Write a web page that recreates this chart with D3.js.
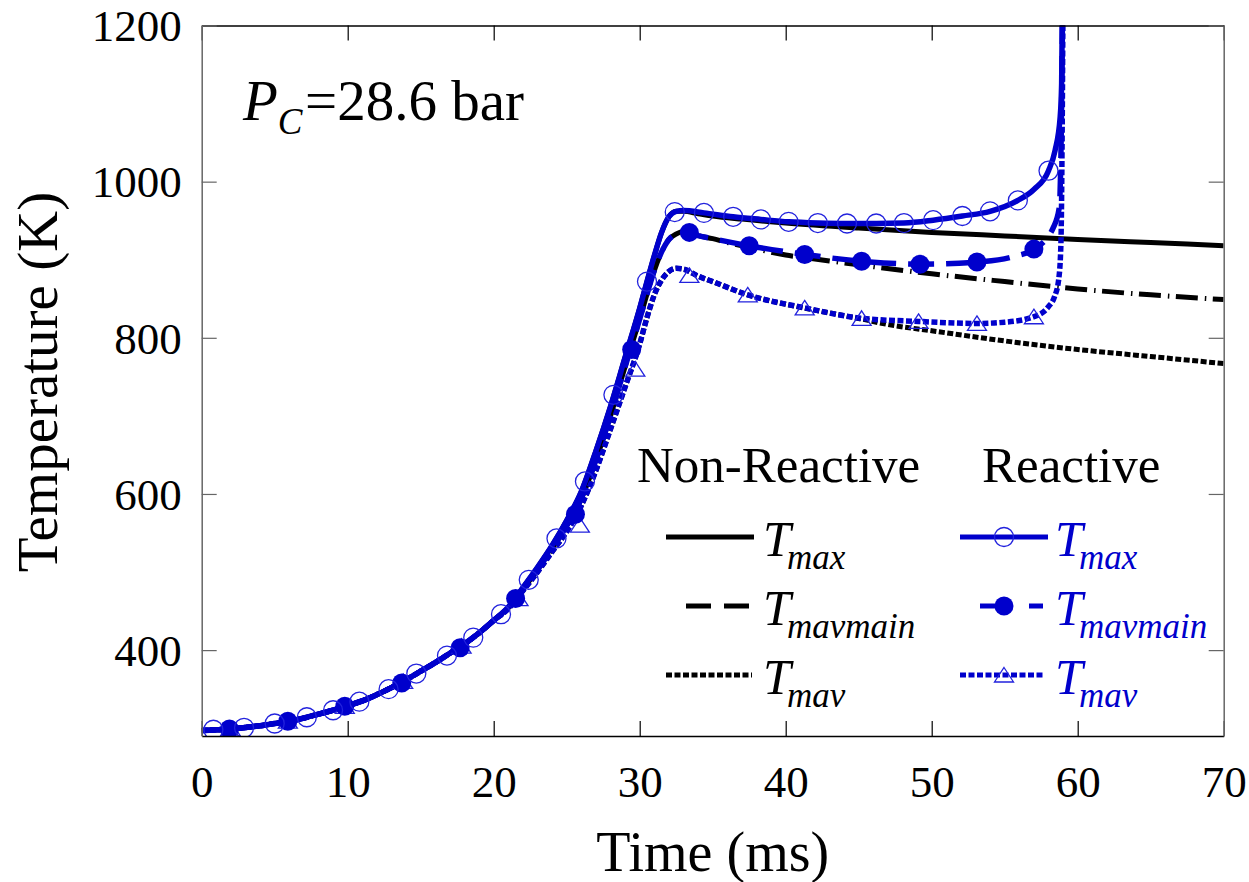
<!DOCTYPE html>
<html>
<head>
<meta charset="utf-8">
<script src="https://cdn.jsdelivr.net/npm/d3@7"></script>
<style>
  body { margin: 0; background: #fff; }
  svg { display: block; font-family: "Liberation Serif", "Times New Roman", serif; }
</style>
</head>
<body>
<svg id="chart" width="1249" height="882"></svg>
<script>
// axis ticks
const X_TICKS = [0, 10, 20, 30, 40, 50, 60, 70];
const Y_TICKS = [400, 600, 800, 1000, 1200];

// compression stroke (all series share the times)
const COMP_T = [0, 1, 2, 3, 4, 5, 6, 7, 8, 9, 10, 11, 12, 13, 14, 15, 16, 17, 18, 19, 20,
    21, 22, 23, 24, 25, 26, 27, 28, 29, 30, 30.5, 31, 31.5, 32, 32.5];
const COMP_TMAX = [297, 298, 299, 301, 303, 306, 309, 313, 318, 323, 329, 335, 343, 352, 362, 373, 384, 396, 408, 422, 438,
    455, 480, 506, 534, 566, 603, 655, 712, 775, 838, 872, 905, 935, 955, 962];
const COMP_TMAVMAIN = [297, 298, 299, 301, 303, 306, 309, 313, 318, 323, 329, 335, 343, 352, 362, 373, 384, 396, 408, 422, 438,
    454, 478, 503, 530, 559, 594, 643, 700, 763, 824, 856, 886, 910, 926, 933];
const COMP_TMAV = [297, 298, 299, 301, 303, 306, 309, 313, 318, 323, 329, 335, 343, 352, 362, 373, 384, 396, 408, 422, 438,
    453, 476, 500, 526, 552, 585, 630, 683, 737, 792, 826, 855, 874, 885, 889];

// after compression - non reactive
const NR_TMAX_T = [33, 34, 35, 37, 40, 45, 50, 55, 60, 65, 70];
const NR_TMAX_V = [962, 959, 956, 952, 947, 940.5, 935, 930.5, 926, 922, 918];
const NR_TMAVMAIN_T = [33, 33.4, 34, 35, 36, 37.5, 40, 42, 45, 50, 55, 60, 65, 70];
const NR_TMAVMAIN_V = [936, 935, 931, 927, 922, 916, 906, 901, 893.5, 882, 872, 862.5, 855, 849];
const NR_TMAV_T = [33, 34, 35, 37.4, 40, 41.3, 45.2, 47, 50, 55, 60, 65, 70];
const NR_TMAV_V = [888, 879, 872, 855, 843, 838, 824, 817, 809, 796, 785, 776, 767];

// after compression - reactive
const R_TMAX_T = [33, 34.4, 36.4, 38.3, 40.2, 42.2, 44.2, 46.2, 48.1, 50.1, 52.1, 54, 55.9, 57, 58, 58.45, 58.8, 58.9, 58.97];
const R_TMAX_V = [963, 960, 955, 951.6, 948.5, 947, 946.4, 946.4, 947, 950.7, 956, 962, 976, 990, 1014, 1040, 1083, 1126, 1260];
const R_TMAVMAIN_T = [33, 33.4, 34, 35, 37.5, 41.3, 45.2, 49.2, 53.1, 55.6, 57, 58.3, 58.74, 58.9, 58.98];
const R_TMAVMAIN_V = [936, 935, 931, 927, 917.8, 906.8, 898, 894.3, 897, 904, 913.6, 940, 967, 1100, 1260];
const R_TMAV_T = [33, 34, 35, 37.4, 41.3, 45.2, 49.1, 53.1, 55, 57, 58, 58.4, 58.7, 58.85, 58.95, 59];
const R_TMAV_V = [888, 879, 872, 855, 838.4, 825, 821, 818.4, 820, 827, 840, 852, 875, 920, 1100, 1260];

// markers on the reactive curves
const MK_TMAX_T = [0.8, 2.9, 5.0, 7.2, 9.0, 10.8, 12.8, 14.7, 16.8, 18.6, 20.5, 22.4, 24.3, 26.25, 28.2, 30.5,
    32.4, 34.4, 36.4, 38.3, 40.2, 42.2, 44.2, 46.2, 48.1, 50.1, 52.1, 54.0, 55.9, 58.0];
const MK_TMAX_V = [298, 300.5, 306, 314, 323, 334, 350, 370, 393, 416, 446, 490, 543, 616, 727, 872,
    961, 960, 955, 951.6, 948.5, 947, 946.4, 946.4, 947, 950.7, 956, 962, 976, 1014];
const MK_TMAVMAIN_T = [1.9, 5.9, 9.8, 13.7, 17.7, 21.5, 25.6, 29.45, 33.4, 37.5, 41.3, 45.2, 49.2, 53.1, 57.0];
const MK_TMAVMAIN_V = [299, 309, 328, 358, 403, 466, 574, 785, 935, 917.8, 906.8, 898, 894.3, 897, 913.6];
const MK_TMAV_T = [2.0, 5.9, 9.8, 13.8, 17.8, 21.7, 25.9, 29.7, 33.4, 37.4, 41.3, 45.2, 49.1, 53.1, 57.0];
const MK_TMAV_V = [299, 309, 328, 360, 405, 466, 560, 760, 880, 855, 838.4, 825, 821, 818.4, 827];

const BLUE = '#0000cc';
const FONT_TICK = 45;

const svg = d3.select('#chart');
svg.append('rect').attr('width', 1249).attr('height', 882).attr('fill', '#fff');

const X0 = 201.7, X1 = 1223.7, Y0 = 736, Y1 = 25.5;
const x = d3.scaleLinear().domain([0, 70]).range([X0, X1]);
const y = d3.scaleLinear().domain([290, 1200]).range([Y0, Y1]);

// helper to zip arrays into points
function pts(ts, vs) {
    return ts.map((t, i) => [t, vs[i]]);
}

const line = d3.line()
    .x(d => x(d[0]))
    .y(d => y(d[1]))
    .curve(d3.curveMonotoneX);

svg.append('clipPath').attr('id', 'plotclip')
    .append('rect')
    .attr('x', X0).attr('y', Y1)
    .attr('width', X1 - X0).attr('height', Y0 - Y1);

const plot = svg.append('g').attr('clip-path', 'url(#plotclip)');

// series definitions
const SERIES = [
    { data: pts(COMP_T, COMP_TMAX).concat(pts(NR_TMAX_T, NR_TMAX_V)), color: '#000', width: 5, dash: null },
    { data: pts(COMP_T, COMP_TMAVMAIN).concat(pts(NR_TMAVMAIN_T, NR_TMAVMAIN_V)), color: '#000', width: 5, dash: '22,7,1.5,6.5' },
    { data: pts(COMP_T, COMP_TMAV).concat(pts(NR_TMAV_T, NR_TMAV_V)), color: '#000', width: 5, dash: '6,2.5' },
    { data: pts(COMP_T, COMP_TMAV).concat(pts(R_TMAV_T, R_TMAV_V)), color: BLUE, width: 5.5, dash: '6,2.5' },
    { data: pts(COMP_T, COMP_TMAVMAIN).concat(pts(R_TMAVMAIN_T, R_TMAVMAIN_V)), color: BLUE, width: 5.5, dash: '26,12' },
    { data: pts(COMP_T, COMP_TMAX).concat(pts(R_TMAX_T, R_TMAX_V)), color: BLUE, width: 5.5, dash: null },
];

SERIES.forEach(s => {
    plot.append('path')
        .datum(s.data)
        .attr('d', line)
        .attr('fill', 'none')
        .attr('stroke', s.color)
        .attr('stroke-width', s.width)
        .attr('stroke-dasharray', s.dash)
        .attr('stroke-linejoin', 'round');
});

// marker drawing
const TRI = 'M0,-7.5L9.5,7L-9.5,7Z';
function openCircle(g, cx, cy) {
    g.append('circle').attr('cx', cx).attr('cy', cy).attr('r', 9.5)
        .attr('fill', 'none').attr('stroke', '#2222dd').attr('stroke-width', 1.3);
}
function fullCircle(g, cx, cy) {
    g.append('circle').attr('cx', cx).attr('cy', cy).attr('r', 9.5).attr('fill', BLUE);
}
function triangle(g, cx, cy) {
    g.append('path').attr('d', TRI).attr('transform', `translate(${cx},${cy})`)
        .attr('fill', 'none').attr('stroke', '#2222dd').attr('stroke-width', 1.3);
}

pts(MK_TMAV_T, MK_TMAV_V).forEach(d => triangle(plot, x(d[0]), y(d[1])));
pts(MK_TMAVMAIN_T, MK_TMAVMAIN_V).forEach(d => fullCircle(plot, x(d[0]), y(d[1])));
pts(MK_TMAX_T, MK_TMAX_V).forEach(d => openCircle(plot, x(d[0]), y(d[1])));

// axes with inward ticks on all four sides
function styleAxis(g, color) {
    g.attr('font-family', null).attr('font-size', null);
    g.selectAll('.domain').attr('stroke', color).attr('stroke-width', 1.5);
    g.selectAll('.tick line').attr('stroke', color).attr('stroke-width', 1.2);
    g.selectAll('text').attr('fill', '#000').style('font-size', FONT_TICK + 'px')
        .style('font-family', '"Liberation Serif", "Times New Roman", serif');
}

const xBottom = svg.append('g').attr('transform', `translate(0,${Y0})`)
    .call(d3.axisBottom(x).tickValues(X_TICKS).tickFormat(d3.format('d'))
        .tickSizeInner(-15).tickSizeOuter(0).tickPadding(29));
styleAxis(xBottom, '#000');

const xTop = svg.append('g').attr('transform', `translate(0,${Y1})`)
    .call(d3.axisTop(x).tickValues(X_TICKS).tickSizeInner(-15).tickSizeOuter(0).tickFormat(''));
styleAxis(xTop, '#000');

const yLeft = svg.append('g').attr('transform', `translate(${X0},0)`)
    .call(d3.axisLeft(y).tickValues(Y_TICKS).tickFormat(d3.format('d'))
        .tickSizeInner(-15).tickSizeOuter(0).tickPadding(20));
styleAxis(yLeft, '#666');
yLeft.selectAll('text').attr('dy', '0.34em');

const yRight = svg.append('g').attr('transform', `translate(${X1},0)`)
    .call(d3.axisRight(y).tickValues(Y_TICKS).tickSizeInner(-15).tickSizeOuter(0).tickFormat(''));
styleAxis(yRight, '#666');

// axis titles
svg.append('text')
    .attr('x', (X0 + X1) / 2).attr('y', 871)
    .attr('text-anchor', 'middle')
    .style('font-size', '56px')
    .text('Time (ms)');

svg.append('text')
    .attr('transform', 'translate(57,382) rotate(-90)')
    .attr('text-anchor', 'middle')
    .style('font-size', '57px')
    .text('Temperature (K)');

// pressure label
const pc = svg.append('text').attr('x', 243).attr('y', 120).style('font-size', '57px');
pc.append('tspan').style('font-style', 'italic').text('P');
pc.append('tspan').style('font-style', 'italic').style('font-size', '37px').attr('dy', 14).text('C');
pc.append('tspan').attr('x', 305).attr('dy', -14).text('=28.6 bar');

// legend
svg.append('text').attr('x', 637).attr('y', 482).style('font-size', '51px').text('Non-Reactive');
svg.append('text').attr('x', 982).attr('y', 482).style('font-size', '51px').text('Reactive');

const LEG_SUB = ['max', 'mavmain', 'mav'];
const LEG_BASE = [556, 625, 694];

const NR_LEG = [
    { x1: 666, x2: 754, dash: null, width: 5 },
    { x1: 686, x2: 749, dash: '25,13', width: 5 },
    { x1: 666, x2: 752, dash: '6,2.5', width: 5 },
];
const R_LEG = [
    { x1: 960, x2: 1048, dash: null, width: 5, mk: openCircle },
    { x1: 980, x2: 1043, dash: '15,34', width: 5, mk: fullCircle },
    { x1: 960, x2: 1045, dash: '6,2.5', width: 5, mk: triangle },
];

function legendLabel(tx, base, sub, color) {
    const t = svg.append('text').attr('x', tx).attr('y', base)
        .style('font-size', '50px').style('font-style', 'italic').attr('fill', color);
    t.append('tspan').text('T');
    t.append('tspan').attr('x', tx + 24).attr('dy', 13).style('font-size', '35px').text(sub);
}

NR_LEG.forEach((d, i) => {
    const ly = LEG_BASE[i] - 19;
    svg.append('line').attr('x1', d.x1).attr('x2', d.x2).attr('y1', ly).attr('y2', ly)
        .attr('stroke', '#000').attr('stroke-width', d.width).attr('stroke-dasharray', d.dash);
    legendLabel(763, LEG_BASE[i], LEG_SUB[i], '#000');
});

R_LEG.forEach((d, i) => {
    const ly = LEG_BASE[i] - 19;
    svg.append('line').attr('x1', d.x1).attr('x2', d.x2).attr('y1', ly).attr('y2', ly)
        .attr('stroke', BLUE).attr('stroke-width', d.width).attr('stroke-dasharray', d.dash);
    d.mk(svg, 1004, ly);
    legendLabel(1055, LEG_BASE[i], LEG_SUB[i], BLUE);
});
</script>
</body>
</html>
